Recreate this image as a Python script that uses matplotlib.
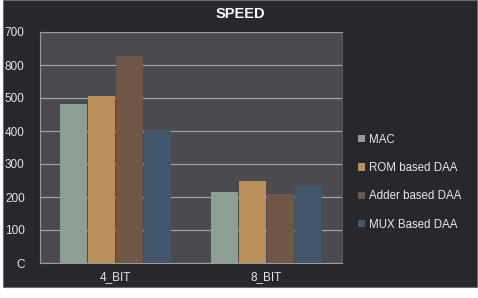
import matplotlib
matplotlib.use("Agg")
import matplotlib.pyplot as plt
import numpy as np
from matplotlib.patches import Rectangle

plt.rcParams['font.family'] = ['Liberation Sans', 'DejaVu Sans']

# data
categories = ['4_BIT', '8_BIT']
series = ['MAC', 'ROM based DAA', 'Adder based DAA', 'MUX Based DAA']
mac = [481, 216]
rom = [505, 248]
adder = [628, 209]
mux = [399, 233]
yticks = [0, 100, 200, 300, 400, 500, 600, 700]
ytick_labels = ['C', '100', '200', '300', '400', '500', '800', '700']

colors = ['#8c9f93', '#b98f5a', '#6f5747', '#425669']

fig = plt.figure(figsize=(4.78, 2.98), dpi=100)
fig.patch.set_facecolor('white')
# dark chart background (white strip at the bottom like the screenshot)
bg = Rectangle((3 / 478, 11 / 298), 474 / 478, 287 / 298,
               transform=fig.transFigure, facecolor='#27272e',
               edgecolor='#6a6a70', linewidth=0.8, zorder=-10)
fig.add_artist(bg)

ax = fig.add_axes([40 / 478, 35 / 298, 302 / 478, 231 / 298])
ax.set_facecolor('#4a4a50')

x = np.arange(len(categories))
w = 0.184
for i, (vals, name) in enumerate(zip([mac, rom, adder, mux], series)):
    ax.bar(x + (i - 1.5) * w, vals, width=w * 0.96, color=colors[i],
           label=name, zorder=3)

ax.set_xlim(-0.5, 1.5)
ax.set_ylim(0, 700)
ax.set_yticks(yticks)
ax.set_yticklabels(ytick_labels)
ax.set_xticks(x)
ax.set_xticklabels(categories)
ax.grid(axis='y', color='#a0a0a4', linewidth=0.9, zorder=1)
ax.tick_params(colors='#e6e6e6', labelsize=8.5, length=0, pad=11)
ax.tick_params(axis='x', pad=6)
for s in ['left', 'bottom', 'top']:
    ax.spines[s].set_color('#9a9a9e')
ax.spines['right'].set_color('#55555a')

fig.text(240 / 478, 1 - 14 / 298, 'SPEED', ha='center', va='center',
         color='white', fontsize=10.5, fontweight='bold')

leg = ax.legend(loc='upper left', bbox_to_anchor=(1.02, 0.605), frameon=False,
                fontsize=8.3, labelcolor='#e8e8e8', handlelength=0.6,
                handleheight=0.6, handletextpad=0.3, labelspacing=1.42)

fig.savefig('out.png', dpi=100, facecolor=fig.get_facecolor())
